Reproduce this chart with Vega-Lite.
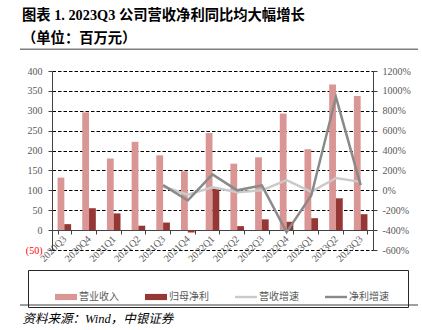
{
  "$schema": "https://vega.github.io/schema/vega-lite/v6.json",
  "autosize": "none",
  "padding": {"left": 52, "top": 71, "right": 49, "bottom": 80},
  "width": 321,
  "height": 179,
  "background": "white",
  "datasets": {
    "bars": [
      {"q": "2020Q3", "series": "营业收入", "v": 132},
      {"q": "2020Q3", "series": "归母净利", "v": 15},
      {"q": "2020Q4", "series": "营业收入", "v": 296},
      {"q": "2020Q4", "series": "归母净利", "v": 55},
      {"q": "2021Q1", "series": "营业收入", "v": 180},
      {"q": "2021Q1", "series": "归母净利", "v": 42},
      {"q": "2021Q2", "series": "营业收入", "v": 222},
      {"q": "2021Q2", "series": "归母净利", "v": 11},
      {"q": "2021Q3", "series": "营业收入", "v": 188},
      {"q": "2021Q3", "series": "归母净利", "v": 19},
      {"q": "2021Q4", "series": "营业收入", "v": 148},
      {"q": "2021Q4", "series": "归母净利", "v": -6},
      {"q": "2022Q1", "series": "营业收入", "v": 244},
      {"q": "2022Q1", "series": "归母净利", "v": 105},
      {"q": "2022Q2", "series": "营业收入", "v": 167},
      {"q": "2022Q2", "series": "归母净利", "v": 10},
      {"q": "2022Q3", "series": "营业收入", "v": 183},
      {"q": "2022Q3", "series": "归母净利", "v": 27},
      {"q": "2022Q4", "series": "营业收入", "v": 293},
      {"q": "2022Q4", "series": "归母净利", "v": 21},
      {"q": "2023Q1", "series": "营业收入", "v": 203},
      {"q": "2023Q1", "series": "归母净利", "v": 30},
      {"q": "2023Q2", "series": "营业收入", "v": 366},
      {"q": "2023Q2", "series": "归母净利", "v": 80},
      {"q": "2023Q3", "series": "营业收入", "v": 337},
      {"q": "2023Q3", "series": "归母净利", "v": 40}
    ],
    "growth": [
      {"q": "2021Q3", "series": "营收增速", "g": 38},
      {"q": "2021Q4", "series": "营收增速", "g": -45},
      {"q": "2022Q1", "series": "营收增速", "g": 30},
      {"q": "2022Q2", "series": "营收增速", "g": -20},
      {"q": "2022Q3", "series": "营收增速", "g": 0},
      {"q": "2022Q4", "series": "营收增速", "g": 102},
      {"q": "2023Q1", "series": "营收增速", "g": -16},
      {"q": "2023Q2", "series": "营收增速", "g": 124},
      {"q": "2023Q3", "series": "营收增速", "g": 85},
      {"q": "2021Q3", "series": "净利增速", "g": 52},
      {"q": "2021Q4", "series": "净利增速", "g": -102},
      {"q": "2022Q1", "series": "净利增速", "g": 160},
      {"q": "2022Q2", "series": "净利增速", "g": 0},
      {"q": "2022Q3", "series": "净利增速", "g": 50},
      {"q": "2022Q4", "series": "净利增速", "g": -420},
      {"q": "2023Q1", "series": "净利增速", "g": -52},
      {"q": "2023Q2", "series": "净利增速", "g": 938},
      {"q": "2023Q3", "series": "净利增速", "g": 52}
    ]
  },
  "title": {
    "text": ["图表 1. 2023Q3 公司营收净利同比均大幅增长", "（单位：百万元）"],
    "anchor": "start",
    "frame": "group",
    "dx": -30,
    "offset": 2.6,
    "font": "Liberation Serif, Noto Sans CJK SC",
    "fontSize": 14.3,
    "fontWeight": "bold",
    "color": "#000000",
    "lineHeight": 23
  },
  "layer": [
    {
      "layer": [
        {
          "data": {"name": "bars"},
          "mark": {"type": "bar"},
          "encoding": {
            "x": {
              "field": "q",
              "type": "nominal",
              "sort": null,
              "scale": {
                "domain": ["2020Q3", "2020Q4", "2021Q1", "2021Q2", "2021Q3", "2021Q4", "2022Q1", "2022Q2", "2022Q3", "2022Q4", "2023Q1", "2023Q2", "2023Q3"],
                "paddingInner": 0.45,
                "paddingOuter": 0.225
              },
              "axis": {
                "orient": "bottom",
                "offset": -20,
                "domain": true,
                "domainColor": "#404040",
                "domainWidth": 1,
                "ticks": true,
                "tickBand": "extent",
                "tickSize": 4,
                "tickColor": "#404040",
                "labelAngle": -45,
                "labelAlign": "right",
                "labelBaseline": "middle",
                "labelPadding": 3,
                "labelColor": "#595959",
                "labelFont": "Liberation Serif",
                "labelFontSize": 10,
                "grid": false,
                "title": "资料来源：Wind，中银证券",
                "titleFont": "Liberation Serif, Noto Sans CJK SC",
                "titleFontStyle": "italic",
                "titleFontWeight": "normal",
                "titleFontSize": 12.5,
                "titleColor": "#000000",
                "titleX": -30,
                "titleY": 88,
                "titleAlign": "left",
                "titleBaseline": "middle",
                "titleAngle": 0
              }
            },
            "xOffset": {
              "field": "series",
              "type": "nominal",
              "sort": ["营业收入", "归母净利"],
              "scale": {"paddingInner": 0, "paddingOuter": 0}
            },
            "y": {
              "field": "v",
              "type": "quantitative",
              "scale": {"domain": [-50, 400], "nice": false, "zero": false},
              "axis": {
                "orient": "left",
                "values": [-50, 0, 50, 100, 150, 200, 250, 300, 350, 400],
                "labelExpr": "datum.value < 0 ? '(' + abs(datum.value) + ')' : datum.label",
                "labelColor": {"condition": {"test": "datum.value < 0", "value": "#FF0000"}, "value": "#595959"},
                "labelFont": "Liberation Serif",
                "labelFontSize": 10,
                "labelPadding": 6,
                "domain": true,
                "domainColor": "#404040",
                "tickSize": 4,
                "tickColor": "#404040",
                "grid": true,
                "gridColor": "#000000",
                "gridDash": [3.5, 2],
                "gridWidth": 1,
                "title": null
              }
            },
            "color": {
              "field": "series",
              "type": "nominal",
              "scale": {
                "domain": ["营业收入", "归母净利", "营收增速", "净利增速"],
                "range": ["#D99694", "#953735", "#CACACA", "#8A8A8A"]
              },
              "legend": {
                "orient": "none",
                "legendX": -24,
                "legendY": 199,
                "direction": "horizontal",
                "columns": 4,
                "title": " ",
                "titleOrient": "right",
                "titlePadding": 14,
                "titleFontSize": 9,
                "padding": 5,
                "strokeColor": "#262626",
                "symbolSize": 1936,
                "symbolStrokeWidth": 0,
                "labelOffset": 2,
                "columnPadding": 4,
                "labelFont": "Noto Sans CJK SC",
                "labelFontSize": 10,
                "labelColor": "#595959",
                "encode": {
                  "symbols": {
                    "update": {
                      "shape": {"signal": "indexof(['营收增速','净利增速'], datum.label) < 0 ? 'M0,-0.14H1V0.14H0Z' : 'M0,-0.055H1V0.055H0Z'"},
                      "fill": {"signal": "scale('color', datum.value)"},
                      "stroke": {"value": "transparent"},
                      "size": {"value": 1936}
                    }
                  }
                }
              }
            }
          }
        },
        {
          "data": {"name": "growth"},
          "mark": {"type": "line", "strokeWidth": 2.5},
          "encoding": {
            "x": {"field": "q", "type": "nominal", "sort": null},
            "y": {
              "field": "g",
              "type": "quantitative",
              "scale": {"domain": [-600, 1200], "nice": false, "zero": false},
              "axis": {
                "orient": "right",
                "values": [-600, -400, -200, 0, 200, 400, 600, 800, 1000, 1200],
                "labelExpr": "datum.value + '%'",
                "labelColor": "#595959",
                "labelFont": "Liberation Serif",
                "labelFontSize": 10,
                "labelPadding": 5,
                "domain": true,
                "domainColor": "#404040",
                "tickSize": 4,
                "tickColor": "#404040",
                "grid": false,
                "title": null
              }
            },
            "color": {"field": "series", "type": "nominal"}
          }
        }
      ],
      "resolve": {"scale": {"y": "independent"}}
    },
    {
      "data": {"values": [{}]},
      "mark": {"type": "rule", "color": "#7F7F7F", "strokeWidth": 1.5},
      "encoding": {
        "x": {"datum": -32, "type": "quantitative", "scale": {"domain": [0, 321], "nice": false, "zero": false}, "axis": null},
        "x2": {"datum": 366},
        "y": {"datum": 454.6, "type": "quantitative", "scale": {"domain": [-50, 400], "nice": false, "zero": false}, "axis": null}
      }
    },
    {
      "data": {"values": [{}]},
      "mark": {"type": "rule", "color": "#7F7F7F", "strokeWidth": 1.5},
      "encoding": {
        "x": {"datum": -32, "type": "quantitative", "scale": {"domain": [0, 321], "nice": false, "zero": false}, "axis": null},
        "x2": {"datum": 366},
        "y": {"datum": -188.3, "type": "quantitative", "scale": {"domain": [-50, 400], "nice": false, "zero": false}, "axis": null}
      }
    }
  ],
  "resolve": {"scale": {"x": "independent", "y": "independent"}},
  "config": {
    "view": {"stroke": null},
    "font": "Liberation Serif, Noto Sans CJK SC"
  }
}
